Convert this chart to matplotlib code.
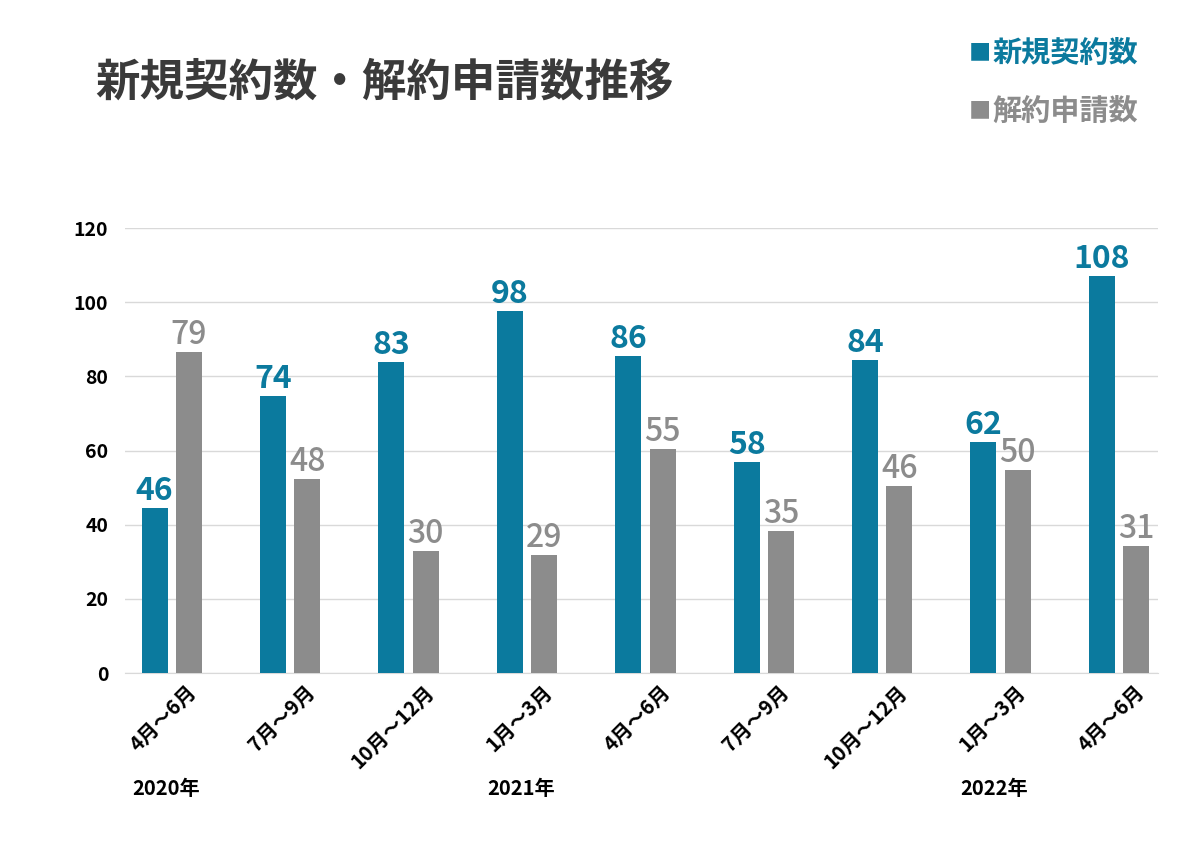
import matplotlib.pyplot as plt
import numpy as np

plt.rcParams['font.family'] = ['Noto Sans CJK JP', 'DejaVu Sans']

# Quarter labels and year labels
quarters = ['4月～6月', '7月～9月', '10月～12月', '1月～3月', '4月～6月',
            '7月～9月', '10月～12月', '1月～3月', '4月～6月']
years = ['2020年', '2021年', '2022年']
year_pos = [0, 3, 7]

# Bar heights as drawn in the chart
new_heights = [44.5, 74.7, 83.9, 97.6, 85.5, 56.9, 84.4, 62.3, 107.1]
cancel_heights = [86.6, 52.3, 32.9, 31.8, 60.4, 38.3, 50.4, 54.7, 34.2]

# Value labels as printed
new_labels = [46, 74, 83, 98, 86, 58, 84, 62, 108]
cancel_labels = [79, 48, 30, 29, 55, 35, 46, 50, 31]

blue = '#0b7a9e'
gray = '#8c8c8c'

fig = plt.figure(figsize=(12, 8.47), dpi=100)
ax = fig.add_axes([0.104, 0.2054, 0.861, 0.5254])

x = np.arange(len(quarters))
w = 0.22
off = 0.145
ax.bar(x - off, new_heights, width=w, color=blue, zorder=3)
ax.bar(x + off, cancel_heights, width=w, color=gray, zorder=3)

for xi, h, lab in zip(x, new_heights, new_labels):
    ax.text(xi - off, h + 0.3, str(lab), ha='center', va='bottom',
            fontsize=23, fontweight='bold', color=blue)
for xi, h, lab in zip(x, cancel_heights, cancel_labels):
    ax.text(xi + off, h + 0.3, str(lab), ha='center', va='bottom',
            fontsize=23, fontweight='medium', color=gray)

ax.set_ylim(0, 120)
ax.set_xlim(-0.397, 8.33)
ax.set_yticks(range(0, 121, 20))
ax.tick_params(axis='y', length=0, labelsize=14, pad=12)
ax.tick_params(axis='x', length=0, pad=6)
for lbl in ax.get_yticklabels():
    lbl.set_fontweight('bold')

ax.set_xticks(x + 0.12)
ax.set_xticklabels(quarters, rotation=45, ha='right', rotation_mode='anchor',
                   fontsize=14.5, fontweight='bold')

ax.grid(axis='y', color='#d9d9d9', linewidth=1, zorder=0)
for s in ['top', 'right', 'left']:
    ax.spines[s].set_visible(False)
ax.spines['bottom'].set_color('#d9d9d9')

for yp, yl in zip(year_pos, years):
    ax.annotate(yl, xy=(yp, 0), xycoords=('data', 'axes fraction'),
                xytext=(-40, -115), textcoords='offset pixels',
                fontsize=14.5, fontweight='bold', va='center', ha='left')

fig.text(0.079, 0.902, '新規契約数・解約申請数推移', fontsize=32, fontweight='bold',
         color='#3a3a3a', va='center')

fig.text(0.807, 0.938, '■', fontsize=16, color=blue, va='center')
fig.text(0.827, 0.938, '新規契約数', fontsize=21, fontweight='bold', color=blue, va='center')
fig.text(0.807, 0.869, '■', fontsize=16, color=gray, va='center')
fig.text(0.827, 0.869, '解約申請数', fontsize=21, fontweight='bold', color=gray, va='center')

fig.savefig('out.png', dpi=100)
